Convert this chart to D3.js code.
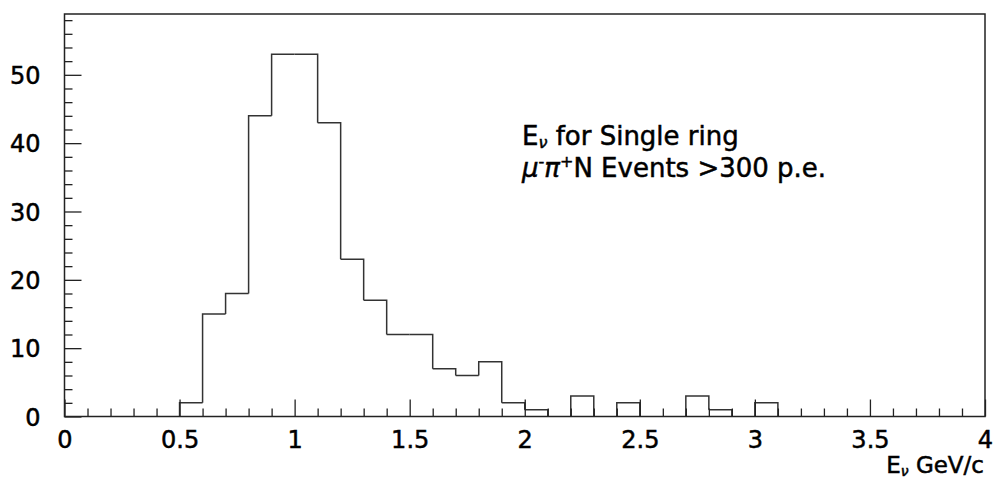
<!DOCTYPE html>
<html>
<head>
<meta charset="utf-8">
<script src="https://cdn.jsdelivr.net/npm/d3@7"></script>
<style>
  body { margin: 0; background: #fff; }
  svg text { font-family: "DejaVu Sans", sans-serif; fill: #000; stroke: #000; stroke-width: 0.5px; }
</style>
</head>
<body>
<svg id="chart"></svg>
<script>
// histogram bins, width 0.1 GeV, starting at 0
let binStarts = d3.range(0, 40).map(i => +(i * 0.1).toFixed(1))
let counts = [0, 0, 0, 0, 0, 2, 15, 18, 44, 53,
              53, 43, 23, 17, 12, 12, 7, 6, 8, 2,
              1, 0, 3, 0, 2, 0, 0, 3, 1, 0,
              2, 0, 0, 0, 0, 0, 0, 0, 0, 0]
let xTickLabels = ["0", "0.5", "1", "1.5", "2", "2.5", "3", "3.5", "4"]
let yTickLabels = ["0", "10", "20", "30", "40", "50"]

let width = 998
let height = 483
let padLeft = 64.5, padRight = 985, padTop = 14, padBottom = 416.5

let svg = d3.select('#chart')
  .attr('width', width)
  .attr('height', height)

let xScale = d3.scaleLinear().domain([0, 4]).range([padLeft, padRight])
let yScale = d3.scaleLinear().domain([0, 58.9]).range([padBottom, padTop])

let line = d3.line()
  .x(d => xScale(d[0]))
  .y(d => yScale(d[1]))

// draw each bin as its own outline (zero bins just sit on the axis)
counts.forEach((c, i) => {
  if (c === 0) return
  let x0 = binStarts[i], x1 = +(x0 + 0.1).toFixed(1)
  let prev = i > 0 ? counts[i - 1] : 0
  let next = i < counts.length - 1 ? counts[i + 1] : 0
  svg.append('path')
    .attr('d', line([[x0, Math.min(prev, c)], [x0, c], [x1, c], [x1, Math.min(next, c)]]))
    .attr('fill', 'none')
    .attr('stroke', '#333')
    .attr('stroke-width', 1.5)
})

// y axis: major ticks every 10, minor every 2
let yAxis = d3.axisRight(yScale)
  .tickValues(d3.range(0, 59, 2))
  .tickSize(8)
  .tickFormat('')
let gy = svg.append('g')
  .attr('transform', 'translate(' + padLeft + ',0)')
  .call(yAxis)
gy.select('.domain').remove()
gy.selectAll('.tick line')
  .attr('stroke', '#222')
  .attr('stroke-width', 1.3)
  .attr('x2', d => d % 10 === 0 ? 17 : 8)
gy.selectAll('.tick')
  .filter(d => d % 10 === 0)
  .append('text')
  .attr('x', -24)
  .attr('dy', '0.36em')
  .attr('text-anchor', 'end')
  .style('font-size', '24px')
  .text(d => yTickLabels[d / 10])

// x axis: major ticks every 0.5, minor every 0.1
let xAxis = d3.axisTop(xScale)
  .tickValues(d3.range(0, 41).map(i => i / 10))
  .tickSize(8)
  .tickFormat('')
let gx = svg.append('g')
  .attr('transform', 'translate(0,' + padBottom + ')')
  .call(xAxis)
gx.select('.domain').remove()
gx.selectAll('.tick line')
  .attr('stroke', '#222')
  .attr('stroke-width', 1.3)
  .attr('y2', (d, i) => i % 5 === 0 ? -17 : -8)
gx.selectAll('.tick')
  .filter((d, i) => i % 5 === 0)
  .append('text')
  .attr('y', 31)
  .attr('text-anchor', 'middle')
  .style('font-size', '24px')
  .text(d => xTickLabels[Math.round(d * 2)])

// frame
svg.append('rect')
  .attr('x', padLeft)
  .attr('y', padTop)
  .attr('width', padRight - padLeft)
  .attr('height', padBottom - padTop)
  .attr('fill', 'none')
  .attr('stroke', '#222')
  .attr('stroke-width', 1.5)

// annotation
let t1 = svg.append('text').attr('x', 522).attr('y', 145).style('font-size', '26px')
t1.append('tspan').text('E')
t1.append('tspan').attr('dy', 3).style('font-size', '16px').style('font-style', 'italic').text('ν')
t1.append('tspan').attr('dy', -3).text(' for Single ring')

let t2 = svg.append('text').attr('x', 522).attr('y', 177).style('font-size', '26px')
t2.append('tspan').style('font-style', 'italic').text('μ')
t2.append('tspan').attr('dy', -10).style('font-size', '16px').text('-')
t2.append('tspan').attr('dy', 10).style('font-style', 'italic').text('π')
t2.append('tspan').attr('dy', -10).style('font-size', '16px').text('+')
t2.append('tspan').attr('dy', 10).text('N Events >300 p.e.')

// x axis title
let t3 = svg.append('text').attr('x', 984).attr('y', 473).attr('text-anchor', 'end').style('font-size', '23px')
t3.append('tspan').text('E')
t3.append('tspan').attr('dy', 3).style('font-size', '14px').style('font-style', 'italic').text('ν')
t3.append('tspan').attr('dy', -3).text(' GeV/c')
</script>
</body>
</html>
